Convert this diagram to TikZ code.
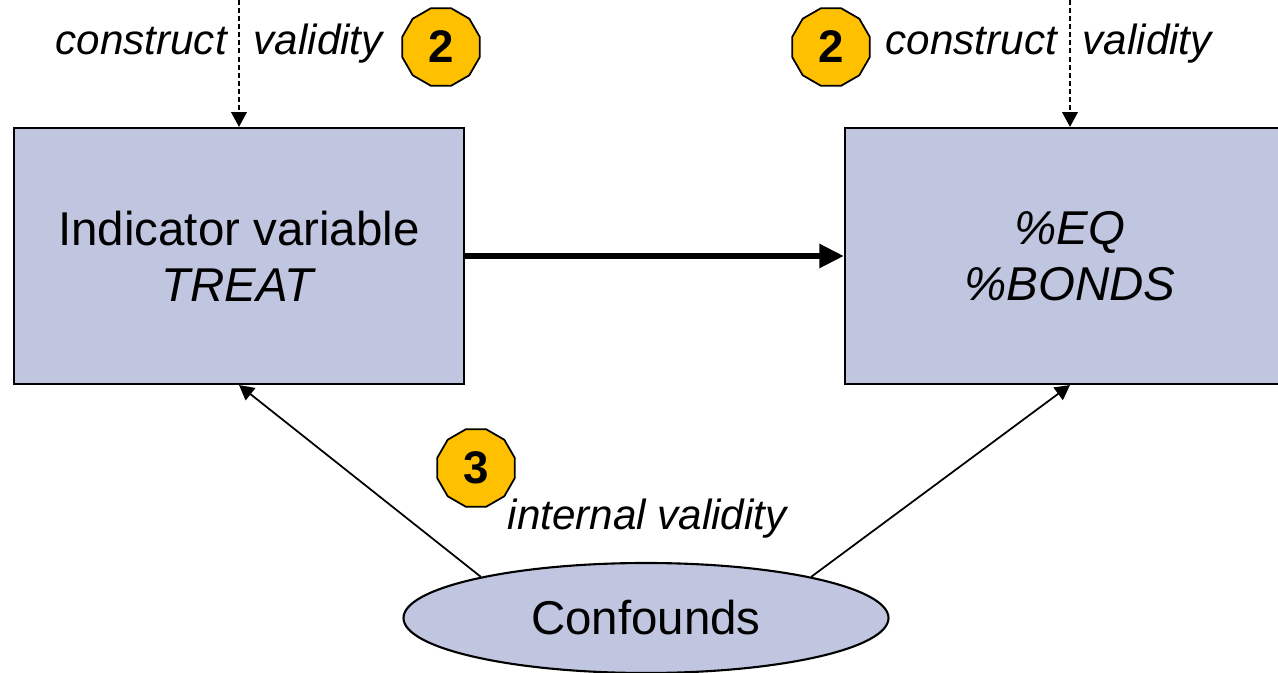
\documentclass[tikz,border=0pt]{standalone}
\usepackage{fontspec}
\setmainfont{Liberation Sans}
\usepackage{tikz}
\usetikzlibrary{shapes.geometric, arrows.meta, positioning, calc}
\definecolor{boxcolor}{RGB}{192, 197, 224}
\definecolor{badgecolor}{RGB}{255, 192, 0}

\begin{document}
\begin{tikzpicture}[
    varbox/.style={draw, line width=0.6pt, fill=boxcolor, minimum width=4.5cm, minimum height=2.56cm, align=center, font=\fontsize{13.5}{16}\selectfont},
    badge/.style={draw, line width=0.5pt, fill=badgecolor, regular polygon, regular polygon sides=12, minimum size=0.8cm, inner sep=0pt, font=\fontsize{13}{15}\selectfont\bfseries},
    note/.style={font=\fontsize{12}{14}\selectfont\itshape, anchor=base west, inner sep=0pt},
    confnode/.style={draw, line width=0.6pt, fill=boxcolor, ellipse, minimum width=4.85cm, minimum height=1.1cm, inner sep=0pt, font=\fontsize{13.5}{16}\selectfont},
    dasharrow/.style={line width=0.5pt, dash pattern=on 1.4pt off 0.9pt, -{Triangle[length=4.2pt,width=4.4pt]}},
    thinarrow/.style={line width=0.5pt, -{Triangle[length=4.2pt,width=4.4pt]}}
]
    \useasboundingbox (0,0) rectangle (12.78,-6.73);

    % Variable boxes
    \node[varbox] (treat) at (2.39, -2.56) {Indicator variable\\\textit{TREAT}};
    \node[varbox] (eq) at (10.70, -2.56) {\textit{\%EQ}\\\textit{\%BONDS}};

    % Confounds
    \node[confnode] (conf) at (6.46, -6.18) {Confounds};

    % Validity labels
    \node[note] (cvleft) at (0.55, -0.55) {construct\hspace{0.27cm}validity};
    \node[badge] (badgeleft) at (4.41, -0.47) {2};

    \node[badge] (badgeright) at (8.31, -0.47) {2};
    \node[note] (cvright) at (8.85, -0.55) {construct\hspace{0.26cm}validity};

    \node[badge] (badgeint) at (4.76, -4.68) {3};
    \node[note] (intval) at (5.07, -5.30) {internal validity};

    % Connections
    \coordinate (topleft) at (2.39, 0);
    \coordinate (topright) at (10.70, 0);
    \draw[dasharrow] (topleft) -- (treat.north);
    \draw[dasharrow] (topright) -- (eq.north);
    \draw[line width=1.7pt, -{Triangle[length=7pt,width=6.5pt]}] (treat) -- (eq);
    \draw[thinarrow] (conf.166) -- (treat.south);
    \draw[thinarrow] (conf.14) -- (eq.south);

\end{tikzpicture}
\end{document}
